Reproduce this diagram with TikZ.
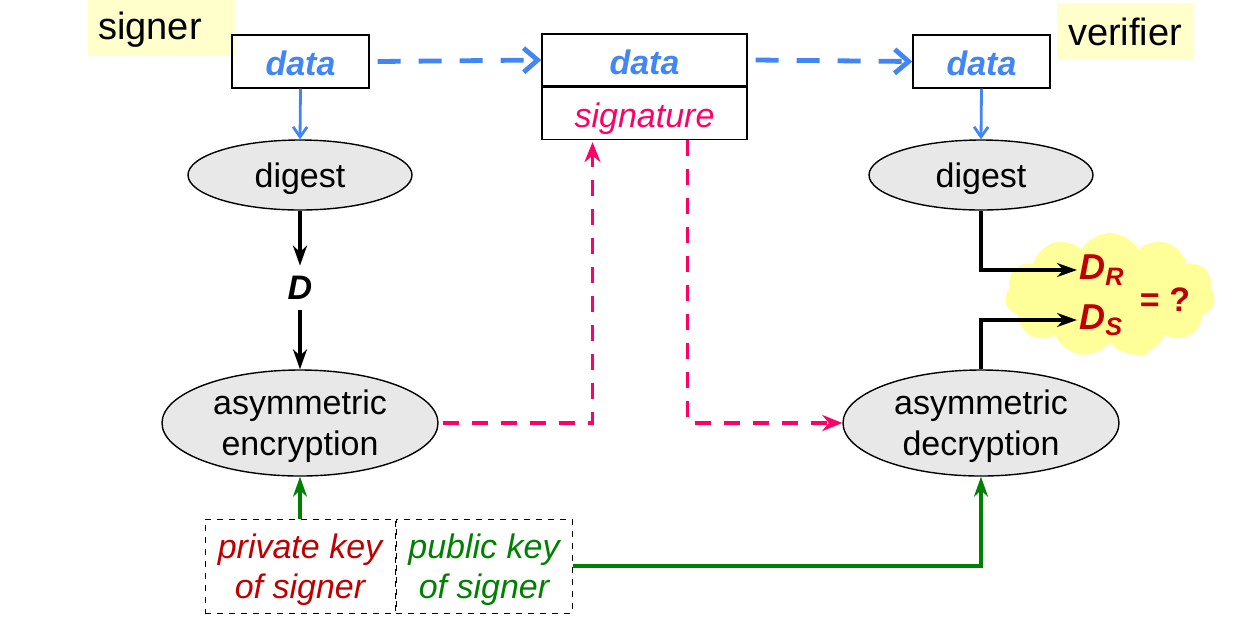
\documentclass[tikz,border=0pt]{standalone}
\usepackage{fontspec}
\setmainfont{Liberation Sans}
\usetikzlibrary{arrows.meta,shapes.geometric,shapes.symbols,calc}
\definecolor{dblue}{RGB}{66,133,244}
\definecolor{dpink}{RGB}{255,0,102}
\definecolor{dred}{RGB}{192,0,0}
\definecolor{dgreen}{RGB}{0,128,0}
\definecolor{lgray}{RGB}{232,232,232}
\definecolor{lyellow}{RGB}{255,255,204}
\definecolor{cyellow}{RGB}{255,255,153}
\tikzset{
  every node/.style={font=\fontsize{17}{20.5}\selectfont},
  databox/.style={draw, line width=0.7pt, minimum width=68.5pt, minimum height=26.5pt, inner sep=0pt, text height=14pt, text depth=0pt, text=dblue, font=\fontsize{17}{20}\selectfont\bfseries\itshape},
  midbox/.style={draw, line width=0.7pt, minimum width=102.5pt, minimum height=26pt, inner sep=0pt, text height=14pt, text depth=0pt},
  ell/.style={ellipse, draw, line width=0.7pt, fill=lgray, inner sep=0pt, text depth=0pt},
  lab/.style={fill=lyellow, inner sep=0pt, font=\fontsize{19}{22}\selectfont},
  keybox/.style={draw, dashed, line width=0.5pt, minimum height=47pt, inner sep=0pt, text depth=0pt, align=center, font=\fontsize{17}{20}\selectfont\itshape},
  bluedash/.style={dblue, line width=2.4pt, dash pattern=on 11.5pt off 9pt, -{Straight Barb[length=7pt,width=12pt,line width=2.4pt]}},
  bluethin/.style={dblue, line width=1.4pt, -{Straight Barb[length=5pt,width=7pt]}},
  blk/.style={black, line width=1.7pt, -{Stealth[length=10pt,width=7pt]}},
  pinkdash/.style={dpink, line width=1.8pt, dash pattern=on 8pt off 6.5pt, -{Stealth[length=10pt,width=8pt]}},
  grn/.style={dgreen, line width=1.7pt, -{Stealth[length=10pt,width=7pt]}},
}
\begin{document}
\begin{tikzpicture}[x=0.5pt,y=-0.5pt]
\useasboundingbox (0,0) rectangle (1258,618);
% labels
\node[lab, minimum width=73.5pt, minimum height=28pt] (signer) at (161.5,28) {};
\node[font=\fontsize{19}{22}\selectfont] (signertxt) at (150,30) {signer};
\node[lab, minimum width=68pt, minimum height=28.5pt, text depth=0pt] (verifier) at (1125,31.5) {verifier};
% data boxes
\node[databox] (d1) at (300.5,61.5) {data};
\node[midbox, text=dblue, font=\fontsize{17}{20}\selectfont\bfseries\itshape] (dm) at (644.5,60) {data};
\node[midbox, text=dpink, font=\fontsize{17}{20}\selectfont\itshape, anchor=north] (sig) at (dm.south) {signature};
\node[databox] (d2) at (981.5,61.5) {data};
% ellipses
\node[ell, minimum width=112pt, minimum height=35pt] (dig1) at (300,175) {digest};
\node[ell, minimum width=112pt, minimum height=35pt] (dig2) at (981,175) {digest};
\node[ell, minimum width=138pt, minimum height=53pt, align=center] (enc) at (300,423) {asymmetric\\encryption};
\node[ell, minimum width=138pt, minimum height=53pt, align=center] (dec) at (981,423) {asymmetric\\decryption};
\node[inner sep=0pt, minimum height=22pt, text depth=0pt, font=\fontsize{17}{20}\selectfont\bfseries\itshape] (D) at (300,288) {D};
% keys
\node[keybox, minimum width=95pt, text=dred] (priv) at (300,566) {private key\\of signer};
\node[keybox, minimum width=88pt, text=dgreen, anchor=west] (pub) at (priv.east) {public key\\of signer};
% cloud
\node[cloud, cloud puffs=11, cloud puff arc=120, aspect=1.75, fill=cyellow, minimum width=105pt, minimum height=62pt, inner sep=0pt] (cl) at (1110,295) {};
\node[circle, fill=cyellow, minimum size=10pt, inner sep=0pt] (puff) at (1141,346) {};
\node[inner sep=1pt, text=dred, font=\fontsize{18}{20}\selectfont\bfseries\itshape, anchor=west] (DR) at (1077,270) {D\textsubscript{R}};
\node[inner sep=1pt, text=dred, font=\fontsize{18}{20}\selectfont\bfseries\itshape, anchor=west] (DS) at (1077,320) {D\textsubscript{S}};
\node[text=dred, font=\fontsize{17}{20}\selectfont\bfseries] (eq) at (1165,300) {= ?};
% connectors
\draw[bluedash] ([xshift=4pt]d1.east) -- (dm.west);
\draw[bluedash] ([xshift=4pt]dm.east) -- (d2.west);
\draw[bluethin] (d1.south) -- (dig1.north);
\draw[bluethin] (d2.south) -- (dig2.north);
\draw[blk] (dig1.south) -- (D.north);
\draw[blk] (D.south) -- (enc.north);
\draw[pinkdash] ([xshift=2pt]enc.east) -| ([xshift=-26pt,yshift=-1pt]sig.south);
\draw[pinkdash] ([xshift=21.5pt]sig.south) |- (dec.west);
\draw[grn] (priv.north) -- (enc.south);
\draw[grn] (pub.east) -| (dec.south);
\draw[blk] (dig2.south) |- (DR.west);
\draw[blk] (dec.north) |- (DS.west);
\end{tikzpicture}
\end{document}
